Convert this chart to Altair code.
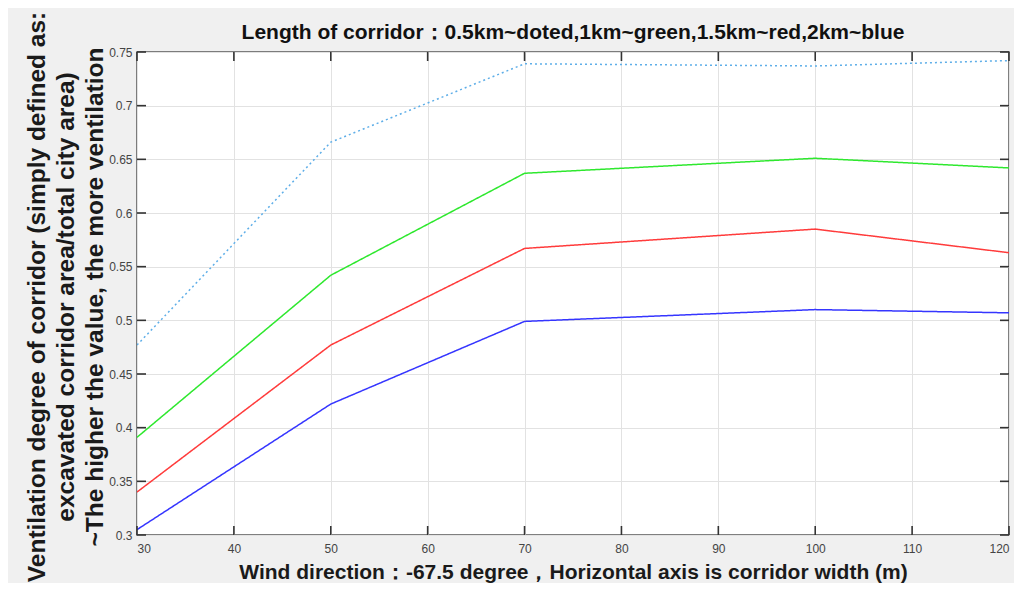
import altair as alt
import pandas as pd

widths = [30, 50, 70, 100, 120]
dotted_05km = [0.477, 0.666, 0.739, 0.737, 0.742]
green_1km = [0.391, 0.542, 0.637, 0.651, 0.642]
red_15km = [0.340, 0.477, 0.567, 0.585, 0.563]
blue_2km = [0.305, 0.422, 0.499, 0.510, 0.507]

series_names = ["0.5km", "1km", "1.5km", "2km"]
series_colors = ["#5eaee8", "#2ee82e", "#ff3b3b", "#3535ff"]
series_values = [dotted_05km, green_1km, red_15km, blue_2km]

x_ticks = [30, 40, 50, 60, 70, 80, 90, 100, 110, 120]
y_ticks = [0.3, 0.35, 0.4, 0.45, 0.5, 0.55, 0.6, 0.65, 0.7, 0.75]

rows = []
for name, vals in zip(series_names, series_values):
    for w, v in zip(widths, vals):
        rows.append({"series": name, "width": w, "value": v})
df = pd.DataFrame(rows)
xt = pd.DataFrame({"t": x_ticks})
yt = pd.DataFrame({"t": y_ticks})

W, H = 872, 483
FONT = "Liberation Sans"

xscale = alt.Scale(domain=[30, 120], nice=False, zero=False)
yscale = alt.Scale(domain=[0.3, 0.75], nice=False, zero=False)

lines = alt.Chart(df).mark_line(strokeWidth=1.5, clip=True).encode(
    x=alt.X("width:Q", scale=xscale,
            axis=alt.Axis(values=x_ticks, title="Wind direction：-67.5 degree，Horizontal axis is corridor width (m)",
                          ticks=False, domain=False, grid=True, gridColor="#e2e2e2",
                          labelFont=FONT, labelFontSize=12, labelColor="#444", labelPadding=8,
                          titleFont=FONT, titleFontSize=21, titleFontWeight="bold", titleColor="#1a1a1a",
                          titlePadding=7)),
    y=alt.Y("value:Q", scale=yscale,
            axis=alt.Axis(values=y_ticks, format="~g",
                          title=["Ventilation degree of corridor (simply defined as:",
                                 "excavated corridor area/total city area)",
                                 "~The higher the value, the more ventilation"],
                          ticks=False, domain=False, grid=True, gridColor="#e2e2e2",
                          labelFont=FONT, labelFontSize=12, labelColor="#444", labelPadding=5,
                          titleFont=FONT, titleFontSize=24.5, titleFontWeight="bold", titleColor="#1a1a1a",
                          titleLineHeight=29, titlePadding=1, titleY=H / 2 + 3)),
    color=alt.Color("series:N", scale=alt.Scale(domain=series_names, range=series_colors), legend=None),
    strokeDash=alt.StrokeDash("series:N", scale=alt.Scale(domain=series_names,
                                                         range=[[2, 3], [1, 0], [1, 0], [1, 0]]), legend=None),
)

TK = 9
tick_style = dict(color="#333333", strokeWidth=1.6)
xt_bottom = alt.Chart(xt).mark_rule(**tick_style).encode(
    x=alt.X("t:Q", scale=xscale), y=alt.value(H), y2=alt.value(H - TK))
xt_top = alt.Chart(xt).mark_rule(**tick_style).encode(
    x=alt.X("t:Q", scale=xscale), y=alt.value(0), y2=alt.value(TK))
yt_left = alt.Chart(yt).mark_rule(**tick_style).encode(
    y=alt.Y("t:Q", scale=yscale), x=alt.value(0), x2=alt.value(TK))
yt_right = alt.Chart(yt).mark_rule(**tick_style).encode(
    y=alt.Y("t:Q", scale=yscale), x=alt.value(W), x2=alt.value(W - TK))

chart = alt.layer(lines, xt_bottom, xt_top, yt_left, yt_right).properties(
    width=W, height=H,
    title=alt.TitleParams("Length of corridor：0.5km~doted,1km~green,1.5km~red,2km~blue",
                          font=FONT, fontSize=21, fontWeight="bold", color="#111", anchor="middle",
                          offset=-32),
    background="#f0f0f0",
    padding={"left": 129, "top": 44, "right": 5, "bottom": 48},
    autosize=alt.AutoSizeParams(type="none"),
).configure_view(fill="white", stroke="#555", strokeWidth=1.5)

chart.save("out.html", embed_options={"renderer": "svg", "actions": False})
